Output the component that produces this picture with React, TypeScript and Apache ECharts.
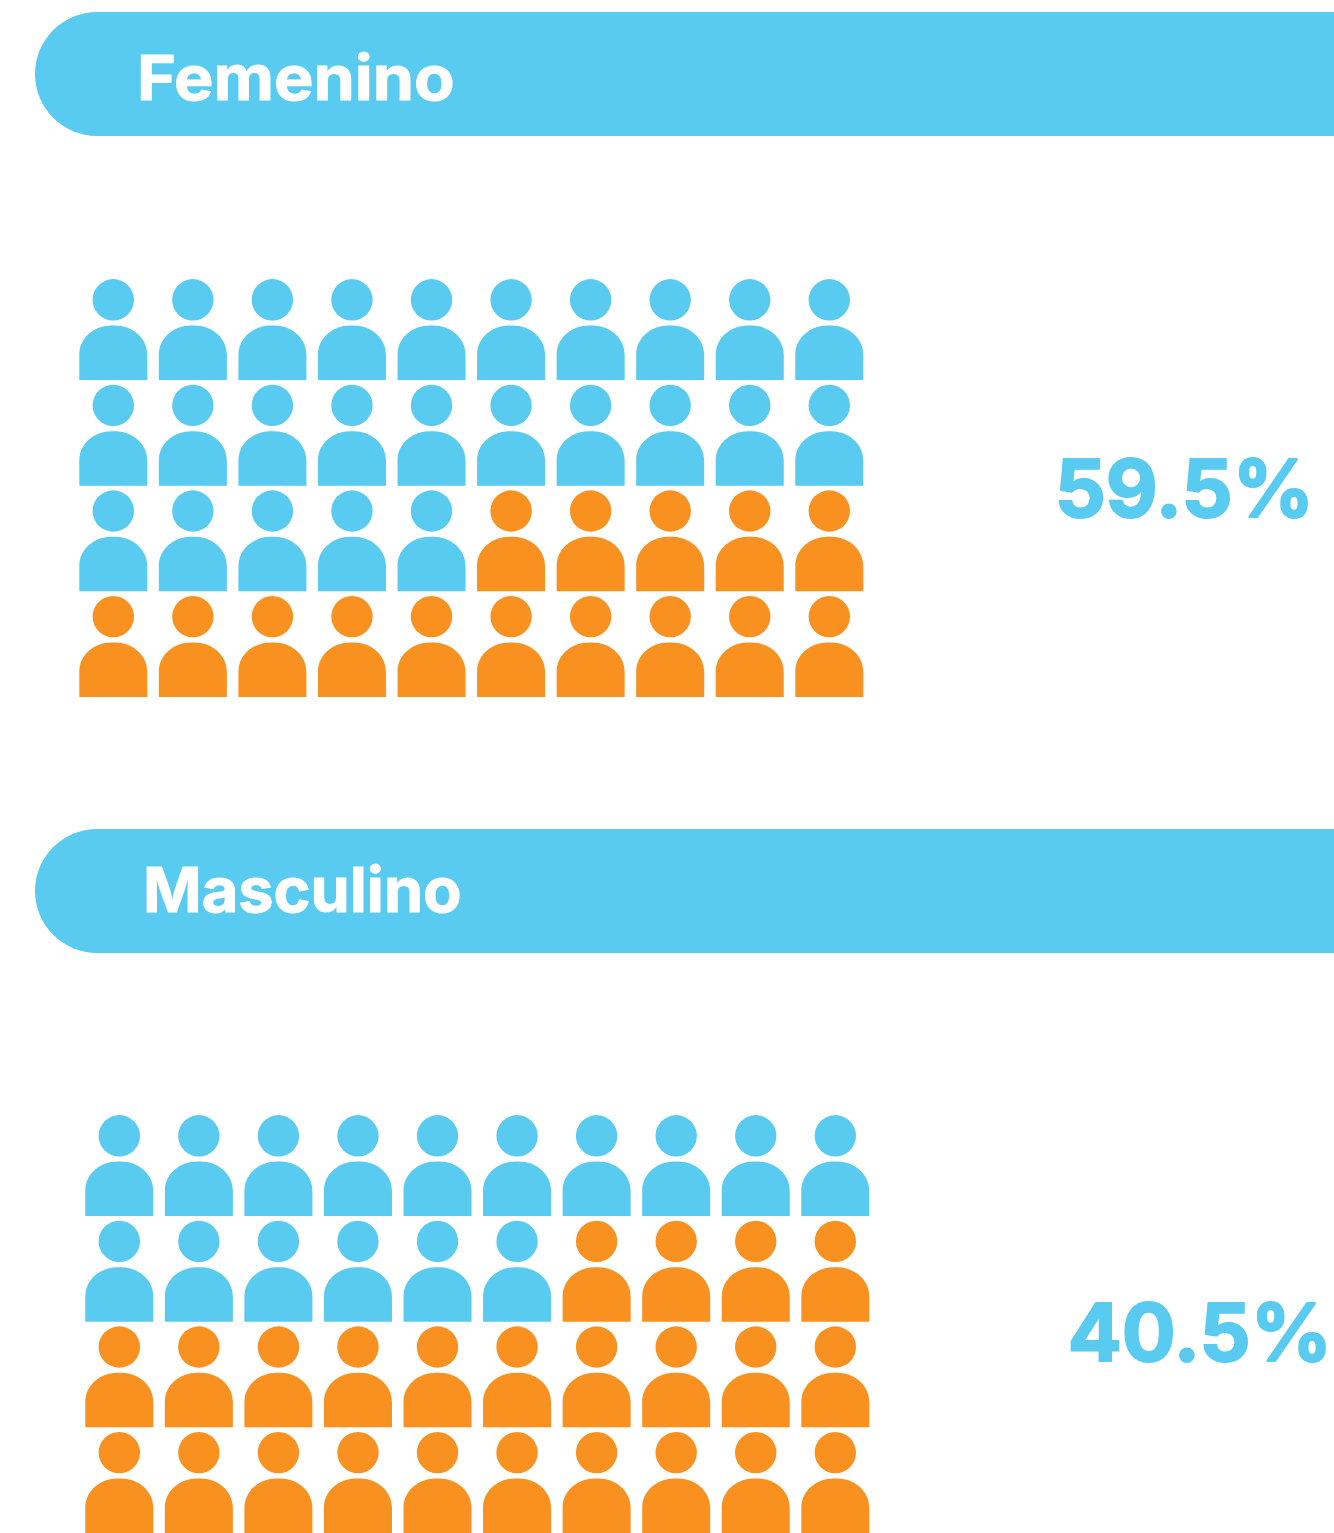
import React, { useEffect, useRef } from "react";
import * as echarts from "echarts";

const groupNames = ["Femenino", "Masculino"];
const groupPercents = ["59.5%", "40.5%"];
// 1 = highlighted blue person, 0 = orange person; one list per row of ten
const femeninoRows = [
  [1, 1, 1, 1, 1, 1, 1, 1, 1, 1],
  [1, 1, 1, 1, 1, 1, 1, 1, 1, 1],
  [1, 1, 1, 1, 1, 0, 0, 0, 0, 0],
  [0, 0, 0, 0, 0, 0, 0, 0, 0, 0],
];
const masculinoRows = [
  [1, 1, 1, 1, 1, 1, 1, 1, 1, 1],
  [1, 1, 1, 1, 1, 1, 0, 0, 0, 0],
  [0, 0, 0, 0, 0, 0, 0, 0, 0, 0],
  [0, 0, 0, 0, 0, 0, 0, 0, 0, 0],
];

const BLUE = "#59CAF0";
const ORANGE = "#F8911F";
const FONT = "Inter";
const PERSON =
  "path://M13.3 20.7a20.7 20.7 0 1 0 41.4 0a20.7 20.7 0 1 0 -41.4 0ZM0 101V76C0 58 16 46.5 32 46.5H36C52 46.5 68 58 68 76V101Z";

const toPoints = (rows: number[][]) =>
  rows.flatMap((row, r) =>
    row.map((v, c) => ({
      value: [c, r],
      itemStyle: { color: v ? BLUE : ORANGE, opacity: 1 },
    }))
  );

const grids = [
  { left: 113.3, top: 329.6, width: 716, height: 316.8 },
  { left: 119.3, top: 1165.6, width: 716, height: 316.8 },
];

function band(y: number, name: string, textX: number, baseline: number, scaleX: number) {
  return [
    {
      type: "rect",
      shape: { x: 35, y, width: 1299, height: 124, r: [62, 0, 0, 62] },
      style: { fill: BLUE },
      z: 1,
    },
    {
      type: "text",
      x: textX,
      y: baseline,
      scaleX,
      z: 2,
      style: {
        text: name,
        fill: "#fff",
        stroke: "#fff",
        lineWidth: 1,
        lineJoin: "round",
        font: `700 62px ${FONT}`,
        textAlign: "left",
        textVerticalAlign: "bottom",
      },
    },
  ];
}

function percent(text: string, right: number, baseline: number) {
  return {
    type: "text",
    x: right,
    y: baseline,
    style: {
      text,
      fill: BLUE,
      stroke: BLUE,
      lineWidth: 2,
      lineJoin: "round",
      font: `700 80px ${FONT}`,
      textAlign: "right",
      textVerticalAlign: "bottom",
    },
  };
}

export default function App() {
  const ref = useRef<HTMLDivElement>(null);
  useEffect(() => {
    document.body.style.margin = "0";
    const chart = echarts.init(ref.current!, null, { renderer: "svg" });
    const axisOff = { show: false };
    chart.setOption({
      animation: false,
      backgroundColor: "#fff",
      grid: grids,
      xAxis: grids.map((_, i) => ({
        type: "value",
        gridIndex: i,
        min: 0,
        max: 9,
        ...axisOff,
      })),
      yAxis: grids.map((_, i) => ({
        type: "value",
        gridIndex: i,
        min: 0,
        max: 3,
        inverse: true,
        ...axisOff,
      })),
      series: [femeninoRows, masculinoRows].map((rows, i) => ({
        type: "scatter",
        name: groupNames[i],
        xAxisIndex: i,
        yAxisIndex: i,
        symbol: PERSON,
        symbolSize: [68, 101],
        symbolKeepAspect: false,
        silent: true,
        data: toPoints(rows),
      })),
      graphic: [
        ...band(12, groupNames[0], 137, 108, 1.07),
        ...band(829, groupNames[1], 143, 920, 1.016),
        percent(groupPercents[0], 1314, 527),
        percent(groupPercents[1], 1332, 1371),
      ],
    });
    return () => chart.dispose();
  }, []);
  return (
    <div
      ref={ref}
      style={{ position: "absolute", left: 0, top: 0, width: 1334, height: 1533 }}
    />
  );
}
